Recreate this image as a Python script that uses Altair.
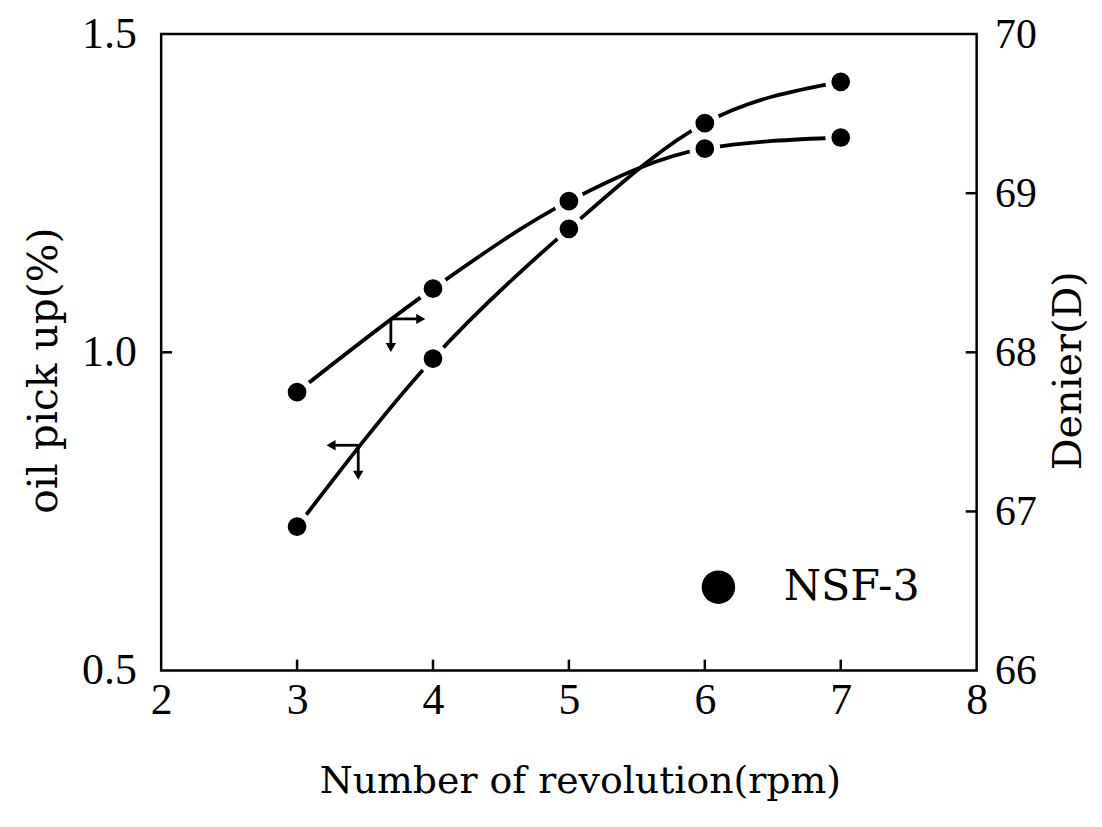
import altair as alt
import pandas as pd

# ---- data ----
rpm = [3, 4, 5, 6, 7]
oil_pickup = [0.726, 0.990, 1.194, 1.360, 1.425]   # left axis (arrow points left)
denier = [67.75, 68.40, 68.95, 69.28, 69.35]       # right axis (arrow points right)

x_ticks = [2, 3, 4, 5, 6, 7, 8]
oil_ticks = [0.5, 1.0, 1.5]
denier_ticks = [66, 67, 68, 69, 70]
x_inner_ticks = [3, 4, 5, 6, 7]
oil_inner_ticks = [1.0]
denier_inner_ticks = [67, 68, 69]

# arrow annotations (data coordinates)
oil_arrow_x = [3.45, 3.25]        # junction, horizontal end (points left)
oil_arrow_y = [0.854, 0.807]      # junction, vertical end
den_arrow_x = [3.69, 3.91]        # junction, horizontal end (points right)
den_arrow_y = [68.21, 68.03]      # junction, vertical end

legend_label = ["NSF-3"]
legend_dot_x = [6.10]
legend_text_x = [6.58]
legend_y = [0.631]

W, H = 820, 640
FONT = "Liberation Serif"
TFONT = "DejaVu Serif"

df = pd.DataFrame({"rpm": rpm, "oil": oil_pickup, "den": denier})

xscale = alt.Scale(domain=[2, 8], nice=False, zero=False)
oil_scale = alt.Scale(domain=[0.5, 1.5], nice=False, zero=False)
den_scale = alt.Scale(domain=[66, 70], nice=False, zero=False)

x_axis = alt.Axis(values=x_ticks, format="d", title="Number of revolution(rpm)",
                  labelFontSize=44, titleFontSize=38, labelPadding=8,
                  labelFlush=False, titleX=421, titleY=112,
                  titleBaseline="middle", titleFontWeight="normal")
oil_axis = alt.Axis(values=oil_ticks, format=".1f", title="oil pick up(%)",
                    orient="left", labelFontSize=44, titleFontSize=41, labelPadding=25,
                    labelFlush=False, titleX=-117, titleY=338,
                    titleBaseline="middle", titleFontWeight="normal")
den_axis = alt.Axis(values=denier_ticks, format="d", title="Denier(D)",
                    orient="right", labelFontSize=42, titleFontSize=40,
                    labelPadding=18, labelFlush=False, titleAngle=270,
                    titleX=92, titleY=338, titleBaseline="middle",
                    titleFontWeight="normal")


def xe(field):
    return alt.X(field, scale=xscale, axis=x_axis)


def oe(field):
    return alt.Y(field, scale=oil_scale, axis=oil_axis)


def de(field):
    return alt.Y(field, scale=den_scale, axis=den_axis)


base = alt.Chart(df)

# ---- left (oil) group ----
oil_line = base.mark_line(color="black", strokeWidth=3.8, interpolate="monotone").encode(
    x=xe("rpm:Q"), y=oe("oil:Q"))
oil_pts = base.mark_circle(size=616, color="black", opacity=1, stroke="white",
                           strokeWidth=6).encode(x=xe("rpm:Q"), y=oe("oil:Q"))

x_tick_df = pd.DataFrame({"t": x_inner_ticks})
x_tick_marks = alt.Chart(x_tick_df).mark_rule(color="black", strokeWidth=2.5).encode(
    x=xe("t:Q"), y=alt.value(H), y2=alt.value(H - 11))

oil_tick_df = pd.DataFrame({"t": oil_inner_ticks})
oil_tick_marks = alt.Chart(oil_tick_df).mark_rule(color="black", strokeWidth=2.5).encode(
    y=oe("t:Q"), x=alt.value(0), x2=alt.value(11))

oil_arrow_df = pd.DataFrame({
    "x": [oil_arrow_x[0], oil_arrow_x[0]], "y": [oil_arrow_y[0], oil_arrow_y[0]],
    "x2": [oil_arrow_x[1], oil_arrow_x[0]], "y2": [oil_arrow_y[0], oil_arrow_y[1]],
})
oil_arrow = alt.Chart(oil_arrow_df).mark_rule(color="black", strokeWidth=2.8).encode(
    x=xe("x:Q"), x2="x2:Q", y=oe("y:Q"), y2="y2:Q")
oil_heads_df = pd.DataFrame({
    "x": [oil_arrow_x[1], oil_arrow_x[0]], "y": [oil_arrow_y[0], oil_arrow_y[1]],
    "shape": ["triangle-left", "triangle-down"]})
oil_heads = alt.Chart(oil_heads_df).mark_point(filled=True, color="black", opacity=1,
                                               size=110).encode(
    x=xe("x:Q"), y=oe("y:Q"), shape=alt.Shape("shape:N", scale=None))

leg_df = pd.DataFrame({"x": legend_dot_x, "xt": legend_text_x, "y": legend_y,
                       "label": legend_label})
leg_dot = alt.Chart(leg_df).mark_circle(size=1130, color="black", opacity=1).encode(
    x=xe("x:Q"), y=oe("y:Q"))
leg_text = alt.Chart(leg_df).mark_text(font=TFONT, fontSize=43, align="left",
                                       baseline="middle", color="black").encode(
    x=xe("xt:Q"), y=oe("y:Q"), text="label:N")

left = alt.layer(oil_line, x_tick_marks, oil_tick_marks, oil_arrow, oil_heads,
                 oil_pts, leg_dot, leg_text)

# ---- right (denier) group ----
den_line = base.mark_line(color="black", strokeWidth=3.8, interpolate="monotone").encode(
    x=xe("rpm:Q"), y=de("den:Q"))
den_pts = base.mark_circle(size=616, color="black", opacity=1, stroke="white",
                           strokeWidth=6).encode(x=xe("rpm:Q"), y=de("den:Q"))
den_tick_df = pd.DataFrame({"t": denier_inner_ticks})
den_tick_marks = alt.Chart(den_tick_df).mark_rule(color="black", strokeWidth=2.5).encode(
    y=de("t:Q"), x=alt.value(W), x2=alt.value(W - 11))
den_arrow_df = pd.DataFrame({
    "x": [den_arrow_x[0], den_arrow_x[0]], "y": [den_arrow_y[0], den_arrow_y[0]],
    "x2": [den_arrow_x[1], den_arrow_x[0]], "y2": [den_arrow_y[0], den_arrow_y[1]],
})
den_arrow = alt.Chart(den_arrow_df).mark_rule(color="black", strokeWidth=2.8).encode(
    x=xe("x:Q"), x2="x2:Q", y=de("y:Q"), y2="y2:Q")
den_heads_df = pd.DataFrame({
    "x": [den_arrow_x[1], den_arrow_x[0]], "y": [den_arrow_y[0], den_arrow_y[1]],
    "shape": ["triangle-right", "triangle-down"]})
den_heads = alt.Chart(den_heads_df).mark_point(filled=True, color="black", opacity=1,
                                               size=110).encode(
    x=xe("x:Q"), y=de("y:Q"), shape=alt.Shape("shape:N", scale=None))

right = alt.layer(den_line, den_tick_marks, den_arrow, den_heads, den_pts)

chart = alt.layer(left, right).resolve_scale(y="independent").properties(
    width=W, height=H,
    autosize=alt.AutoSizeParams(type="none"),
    padding={"left": 154, "top": 24, "right": 118, "bottom": 140},
    background="white",
).configure_view(stroke="black", strokeWidth=2.5).configure_axis(
    domain=False, grid=False, ticks=False, labelFont=FONT, titleFont=TFONT,
    labelColor="black", titleColor="black",
)

chart.save("out.html", embed_options={"renderer": "svg", "actions": False})
